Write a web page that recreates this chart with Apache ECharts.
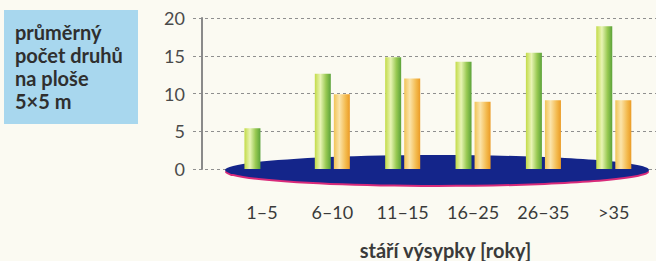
<!DOCTYPE html>
<html>
<head>
<meta charset="utf-8">
<script src="https://cdn.jsdelivr.net/npm/echarts@6/dist/echarts.min.js"></script>
<style>
  html, body { margin: 0; padding: 0; background: #fbfaf2; }
  #chart { width: 656px; height: 261px; }
</style>
</head>
<body>
<div id="chart"></div>
<script>
// věkové kategorie výsypek
var categories = ['1–5', '6–10', '11–15', '16–25', '26–35', '>35'];
// zelené sloupce
var greenValues = [5.4, 12.6, 14.8, 14.2, 15.4, 18.9];
// oranžové sloupce (pro 1–5 chybí)
var orangeValues = [null, 9.9, 12.0, 8.9, 9.1, 9.1];
var yTicks = [0, 5, 10, 15, 20];
var boxLines = ['průměrný', 'počet druhů', 'na ploše', '5×5 m'];

var fontFamily = 'Lato, "Open Sans", sans-serif';
var chart = echarts.init(document.getElementById('chart'), null, {renderer: 'svg'});

// kategorie jako pořadí na číselné ose x
var catIndex = categories.map(function (c, i) { return i; });
var toPairs = function (values) {
  return values.map(function (v, i) { return [i, v]; });
};

var greenFill = new echarts.graphic.LinearGradient(0, 0, 1, 0, [
  {offset: 0, color: '#c3db48'},
  {offset: 0.35, color: '#e8f4b4'},
  {offset: 0.7, color: '#98c952'},
  {offset: 1, color: '#5ba23a'}
]);
var orangeFill = new echarts.graphic.LinearGradient(0, 0, 1, 0, [
  {offset: 0, color: '#f2c457'},
  {offset: 0.35, color: '#fbe4aa'},
  {offset: 0.75, color: '#f3b94c'},
  {offset: 1, color: '#eb9b26'}
]);

var option = {
  backgroundColor: '#fbfaf2',
  animation: false,
  grid: {left: 193, width: 463, top: 18, height: 151, outerBoundsMode: 'none'},
  xAxis: {
    type: 'value',
    min: -0.98,
    max: 5.6,
    axisLine: {show: false},
    axisTick: {show: false},
    splitLine: {show: false},
    axisLabel: {
      customValues: catIndex,
      formatter: function (v) { return categories[Math.round(v)]; },
      margin: 34,
      fontSize: 18,
      color: '#3a3a3a',
      fontFamily: fontFamily
    },
    name: 'stáří výsypky [roky]',
    nameLocation: 'middle',
    nameGap: 71,
    nameTextStyle: {
      fontSize: 20,
      fontWeight: 'bold',
      color: '#3a3a3a',
      fontFamily: fontFamily,
      padding: [0, 0, 0, 42]
    }
  },
  yAxis: {
    type: 'value',
    min: yTicks[0],
    max: yTicks[yTicks.length - 1],
    interval: 5,
    offset: -9,
    axisLine: {show: true, onZero: false, lineStyle: {color: '#8a8a8a', width: 2}},
    axisTick: {show: false},
    axisLabel: {
      margin: 17,
      fontSize: 18,
      color: '#4a4a4a',
      fontFamily: fontFamily
    },
    splitLine: {show: true, lineStyle: {color: '#8f8f8f', type: [3, 3], width: 1}}
  },
  graphic: [
    {
      type: 'rect',
      shape: {x: 4, y: 10, width: 134, height: 114},
      style: {fill: '#a8d7ee'},
      z: 1
    },
    {
      type: 'text',
      x: 15,
      y: 20,
      style: {
        text: boxLines.join('\n'),
        font: 'bold 20px ' + fontFamily,
        lineHeight: 23,
        fill: '#2f2f2f'
      },
      z: 2
    },
    {
      type: 'ellipse',
      shape: {cx: 437, cy: 172, rx: 212, ry: 15},
      style: {fill: '#d82a7a'},
      z: 2
    },
    {
      type: 'ellipse',
      shape: {cx: 437, cy: 170, rx: 212, ry: 15},
      style: {fill: '#14258a'},
      z: 2
    }
  ],
  series: [
    {
      name: 'green',
      type: 'bar',
      barWidth: 16,
      barGap: '19%',
      itemStyle: {color: greenFill},
      z: 3,
      data: toPairs(greenValues)
    },
    {
      name: 'orange',
      type: 'bar',
      barWidth: 16,
      barGap: '19%',
      itemStyle: {color: orangeFill},
      z: 3,
      data: toPairs(orangeValues)
    }
  ]
};

chart.setOption(option);
</script>
</body>
</html>
